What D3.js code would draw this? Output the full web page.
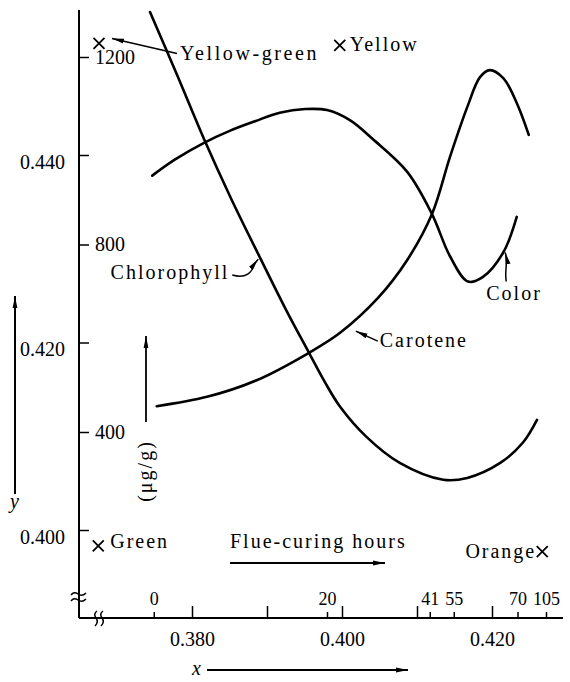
<!DOCTYPE html>
<html><head><meta charset="utf-8">
<script src="https://cdn.jsdelivr.net/npm/d3@7"></script>
<style>
html,body{margin:0;padding:0;background:#fff;}
svg{display:block;}
text{font-family:"Liberation Serif","Times New Roman",serif;fill:#000;}
</style></head><body>
<svg id="chart" width="570" height="682"></svg>
<script>
// ---- data ----
// Color curve in chromaticity coordinates (x, y)
const colorX = [0.3747,0.3777,0.3816,0.3851,0.3884,0.3917,0.3951,0.3980,0.4011,0.4041,0.4087,0.4120,0.4144,0.4168,0.4188,0.4215,0.4233];
const colorY = [0.4378,0.4395,0.4413,0.4426,0.4436,0.4445,0.4449,0.4448,0.4437,0.4417,0.4382,0.4337,0.4292,0.4265,0.4270,0.4296,0.4334];
// Carotene (μg/g)
const caroteneX = [0.3753,0.3820,0.3887,0.3956,0.3997,0.4048,0.4087,0.4120,0.4144,0.4167,0.4184,0.4197,0.4215,0.4233,0.4249];
const caroteneV = [455,475,511,569,611,686,767,865,987,1093,1157,1172,1155,1102,1034];
// Chlorophyll (μg/g)
const chlorophyllX = [0.3744,0.3780,0.3816,0.3853,0.3891,0.3924,0.3956,0.3977,0.3997,0.4033,0.4077,0.4135,0.4167,0.4211,0.4241,0.4260];
const chlorophyllV = [1296,1162,1025,895,771,665,569,507,455,389,334,298,302,334,377,426];
// axes
const yTicks = [0.400,0.420,0.440];
const concTicks = [400,800,1200];
const xTicks = [0.38,0.39,0.40,0.41,0.42];
const xTickLabels = ["0.380","","0.400","","0.420"];
const hoursX = [0.3749,0.3980,0.4117,0.4149,0.4234,0.4272];
const hourLabels = ["0","20","41","55","70","105"];
// color points
const pointNames = ["Yellow-green","Yellow","Green","Orange"];
const pointX = [0.3676,0.3997,0.3675,0.4267];
const pointY = [0.4519,0.4517,0.3983,0.3977];

// ---- chart ----
const svg = d3.select("#chart");
const x = d3.scaleLinear().domain([0.38,0.42]).range([192,492]);
const y = d3.scaleLinear().domain([0.40,0.44]).range([530,155]);
const c = d3.scaleLinear().domain([400,1200]).range([432,57]);
const X0 = 79, Y0 = 618;
const FS = 20;

const defs = svg.append("defs");
defs.append("marker").attr("id","ah").attr("viewBox","0 0 12 6").attr("refX",12).attr("refY",3)
  .attr("markerWidth",12).attr("markerHeight",6).attr("markerUnits","userSpaceOnUse").attr("orient","auto")
  .append("path").attr("d","M0,0.6 L12,3 L0,5.4 Z").attr("fill","#000");

// frame lines
svg.append("line").attr("x1",X0).attr("x2",X0).attr("y1",10).attr("y2",Y0).attr("stroke","#000").attr("stroke-width",2);
svg.append("line").attr("x1",X0).attr("x2",563).attr("y1",Y0).attr("y2",Y0).attr("stroke","#000").attr("stroke-width",2);

// axis breaks
const brk = svg.append("g").attr("fill","none").attr("stroke","#000").attr("stroke-width",1.5);
[0,6].forEach(o=>{
  brk.append("path").attr("d",`M71,${595+o} q3,-4 7,-1 t8,-1`);
  brk.append("path").attr("d",`M${97+o},611 q-4,3 -1,7 t-1,8`);
});

function styleAxis(g,fs){
  g.select(".domain").remove();
  g.selectAll(".tick line").attr("stroke","#000").attr("stroke-width",1.5);
  g.selectAll("text").style("font-family","'Liberation Serif',serif").style("font-size",(fs||FS)+"px").attr("fill","#000");
}
// left y axis (chromaticity y)
const gy = svg.append("g").attr("transform",`translate(${X0},0)`)
  .call(d3.axisLeft(y).tickValues(yTicks).tickSize(-10).tickPadding(14).tickFormat(d3.format(".3f")));
styleAxis(gy); gy.selectAll("text").attr("dy","0.65em");
// concentration axis
const gc = svg.append("g").attr("transform",`translate(${X0},0)`)
  .call(d3.axisRight(c).tickValues(concTicks).tickSize(10).tickPadding(6).tickFormat(d3.format("d")));
styleAxis(gc);
// bottom x axis
const gx = svg.append("g").attr("transform",`translate(0,${Y0})`)
  .call(d3.axisBottom(x).tickValues(xTicks).tickSize(-12).tickPadding(14).tickFormat((d,i)=>xTickLabels[i]));
styleAxis(gx);
// hours axis
const gh = svg.append("g").attr("transform",`translate(0,${Y0})`)
  .call(d3.axisTop(x).tickValues(hoursX).tickSize(6).tickPadding(7).tickFormat((d,i)=>hourLabels[i]));
styleAxis(gh,18);

// curves
const line = d3.line().curve(d3.curveCatmullRom.alpha(0.5));
const colorPts = colorX.map((v,i)=>[x(v),y(colorY[i])]);
const carPts = caroteneX.map((v,i)=>[x(v),c(caroteneV[i])]);
const chlPts = chlorophyllX.map((v,i)=>[x(v),c(chlorophyllV[i])]);
[colorPts,carPts,chlPts].forEach(p=>{
  svg.append("path").attr("d",line(p)).attr("fill","none").attr("stroke","#000").attr("stroke-width",2.6).attr("stroke-linecap","round");
});

// color points (×)
const pts = pointX.map((v,i)=>({name:pointNames[i],px:x(v),py:y(pointY[i])}));
pts.forEach(p=>{
  const s = 5.5;
  svg.append("path").attr("d",`M${p.px-s},${p.py-s}L${p.px+s},${p.py+s}M${p.px-s},${p.py+s}L${p.px+s},${p.py-s}`)
    .attr("stroke","#000").attr("stroke-width",1.8);
});
function label(txt,px,py,anchor,ls){
  return svg.append("text").attr("x",px).attr("y",py).attr("text-anchor",anchor||"start")
    .style("font-size",FS+"px").style("letter-spacing",(ls==null?2:ls)+"px").text(txt);
}
const yg = pts[0], yl = pts[1], gr = pts[2], or = pts[3];
label("Yellow-green", yg.px+81, yg.py+17, "start", 2.6);
svg.append("line").attr("x1",yg.px+78).attr("y1",yg.py+10).attr("x2",yg.px+13).attr("y2",yg.py-5)
  .attr("stroke","#000").attr("stroke-width",1.6).attr("marker-end","url(#ah)");
label("Yellow", yl.px+10, yl.py+6);
label("Green", gr.px+12, gr.py+2);
label("Orange", or.px-6, or.py+6, "end");

// callouts
const chA = chlPts[4];
label("Chlorophyll", chA[0]-31, chA[1]+21, "end");
svg.append("path").attr("d",`M${chA[0]-28},${chA[1]+17} C${chA[0]-14},${chA[1]+21} ${chA[0]-8},${chA[1]+14} ${chA[0]-6},${chA[1]+6} L${chA[0]-2},${chA[1]+1}`)
  .attr("fill","none").attr("stroke","#000").attr("stroke-width",1.5).attr("marker-end","url(#ah)");
const caA = carPts[4];
label("Carotene", caA[0]+40, caA[1]+14);
svg.append("line").attr("x1",caA[0]+38).attr("y1",caA[1]+8).attr("x2",caA[0]+16).attr("y2",caA[1]-2)
  .attr("stroke","#000").attr("stroke-width",1.5).attr("marker-end","url(#ah)");
const coA = colorPts[15];
label("Color", coA[0]-17, coA[1]+47);
svg.append("path").attr("d",`M${coA[0]+3},${coA[1]+29} C${coA[0]+1},${coA[1]+18} ${coA[0]+5},${coA[1]+12} ${coA[0]+2},${coA[1]}`)
  .attr("fill","none").attr("stroke","#000").attr("stroke-width",1.5).attr("marker-end","url(#ah)");

// axis titles and arrows
label("Flue-curing hours", 230, 548);
svg.append("line").attr("x1",230).attr("x2",385).attr("y1",563).attr("y2",563).attr("stroke","#000").attr("stroke-width",2).attr("marker-end","url(#ah)");
svg.append("text").attr("x",192).attr("y",675).style("font-size",FS+"px").style("font-style","italic").text("x");
svg.append("line").attr("x1",207).attr("x2",408).attr("y1",670).attr("y2",670).attr("stroke","#000").attr("stroke-width",2).attr("marker-end","url(#ah)");
svg.append("text").attr("x",10).attr("y",508).style("font-size",FS+"px").style("font-style","italic").text("y");
svg.append("line").attr("x1",15).attr("x2",15).attr("y1",494).attr("y2",296).attr("stroke","#000").attr("stroke-width",2).attr("marker-end","url(#ah)");
svg.append("text").attr("transform","translate(152,471) rotate(-90)").attr("text-anchor","middle")
  .style("font-size",FS+"px").style("letter-spacing","2px").text("(μg/g)");
svg.append("line").attr("x1",146).attr("x2",146).attr("y1",422).attr("y2",336).attr("stroke","#000").attr("stroke-width",1.8).attr("marker-end","url(#ah)");
</script>
</body></html>
